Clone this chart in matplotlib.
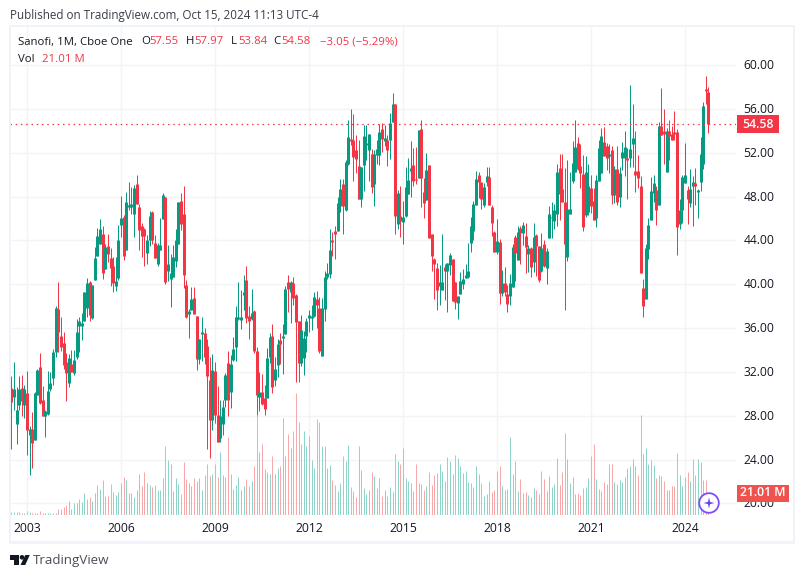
import matplotlib
matplotlib.use("Agg")
import matplotlib.pyplot as plt
from matplotlib.patches import Circle, Polygon, Rectangle
from matplotlib.transforms import ScaledTranslation
import numpy as np

plt.rcParams['font.family'] = ['Open Sans', 'DejaVu Sans']

opens = [30.54,29.7,27.26,29.0,30.5,29.0,30.1,26.2,26.8,25.8,
29.9,32.4,29.4,28.0,28.2,30.45,31.4,33.8,37.7,35.3,
34.6,32.9,31.0,32.7,31.9,33.4,36.2,36.2,36.6,37.8,
40.2,36.9,40.4,42.6,43.7,44.6,41.4,43.5,42.4,41.7,
39.8,40.6,45.4,46.1,43.1,47.0,47.0,46.4,49.1,47.0,
45.3,45.0,42.85,44.0,46.6,43.8,41.8,43.1,45.95,47.95,
41.2,40.5,40.7,42.1,43.7,47.6,46.4,39.9,37.3,37.65,
38.75,37.1,33.2,35.5,35.55,34.4,31.3,27.6,32.1,28.1,
26.0,27.26,29.45,32.8,30.2,33.1,34.3,36.8,36.75,39.0,
40.4,37.1,36.8,37.6,33.9,29.7,30.2,29.6,29.6,33.4,
35.3,31.25,32.65,34.9,35.1,35.5,40.2,39.3,40.1,39.0,
36.65,32.8,33.3,35.3,36.9,36.9,37.1,38.65,37.8,33.45,
37.75,40.7,40.9,44.0,44.85,44.85,47.1,49.15,46.8,51.0,
53.25,53.2,52.2,50.8,47.8,50.9,52.7,52.2,51.9,49.1,
51.8,51.8,54.2,53.1,53.2,53.2,54.8,56.45,45.5,46.2,
45.7,46.2,48.25,50.3,50.9,49.6,49.7,54.2,48.4,47.7,
50.9,44.6,42.3,41.5,39.85,39.5,41.6,41.2,41.75,42.3,
40.2,38.3,39.1,40.0,40.6,40.7,43.75,44.85,47.2,50.0,
49.3,47.25,49.3,49.8,47.0,44.75,42.95,43.85,39.2,40.1,
39.1,38.9,39.75,44.3,42.2,45.1,44.65,44.4,42.75,43.3,
42.0,44.5,43.5,41.2,43.65,41.5,44.2,46.1,45.75,46.4,
50.6,48.7,47.5,42.5,46.4,49.4,50.2,52.9,50.8,50.05,
46.3,46.6,48.8,47.6,46.0,49.4,50.15,53.0,52.6,51.7,
52.2,48.1,50.5,47.95,51.5,51.5,51.5,51.5,52.8,50.3,
50.3,49.0,39.65,38.65,43.2,45.85,48.3,48.6,47.2,54.4,
54.0,50.2,54.0,53.7,53.9,53.9,45.5,46.8,49.2,48.6,
47.4,49.0,49.2,48.4,49.3,51.0,57.8,57.55]

highs = [31.64,32.9,30.6,31.6,31.7,30.8,32.1,27.1,28.3,30.2,
32.3,33.7,30.7,28.5,32.1,32.0,34.1,38.0,40.2,37.0,
35.6,33.7,33.6,34.0,34.0,36.8,37.0,37.4,39.3,40.6,
40.3,39.9,43.4,45.1,45.95,45.3,43.7,44.6,43.3,42.5,
42.5,45.4,48.05,46.3,48.4,49.3,48.9,49.05,50.0,47.3,
45.6,45.1,44.5,46.7,46.7,44.5,43.8,46.0,48.3,47.95,
43.6,42.8,43.6,45.0,47.5,48.3,49.0,40.4,37.7,39.75,
39.75,37.1,35.0,37.0,36.0,35.0,33.4,33.6,32.9,30.7,
29.4,29.45,31.9,33.9,33.5,35.2,38.0,40.2,39.5,40.85,
41.66,38.0,39.6,37.65,34.3,32.0,31.8,30.8,34.2,35.55,
36.4,33.4,35.0,35.55,36.4,39.85,40.85,40.3,40.66,39.1,
36.65,37.2,35.7,36.9,37.65,38.1,39.3,39.4,38.8,38.7,
41.2,41.9,45.0,44.8,45.3,48.0,49.6,49.6,51.3,55.0,
56.0,55.5,53.6,53.2,50.7,54.5,54.5,53.7,52.3,52.2,
53.2,54.6,54.7,54.5,53.6,55.6,57.45,56.45,48.6,49.0,
47.6,50.7,51.5,53.07,52.4,52.5,54.1,55.0,49.7,52.0,
50.9,44.6,42.4,41.9,41.75,44.6,41.85,41.9,42.85,42.3,
40.2,38.9,41.1,41.4,41.85,43.8,46.1,47.6,50.3,50.25,
49.3,49.2,50.7,50.65,47.25,44.85,45.95,44.1,41.3,41.6,
39.9,40.9,43.7,44.5,45.3,45.3,45.65,45.6,43.6,43.4,
45.6,44.6,43.5,44.65,44.0,43.3,47.1,47.5,47.3,51.0,
51.9,51.9,50.6,51.3,50.2,53.06,55.0,53.4,52.8,51.8,
51.7,51.0,50.0,48.8,50.0,53.2,54.25,54.3,52.9,52.8,
52.6,50.8,52.6,50.7,53.0,54.0,52.4,58.17,56.44,54.0,
51.8,49.9,40.5,43.65,46.0,49.8,50.0,49.0,54.8,57.9,
56.0,54.25,55.0,54.4,55.8,54.15,47.8,50.0,52.9,49.0,
50.5,49.9,50.6,48.7,53.4,56.6,59.0,57.97]

lows = [24.98,28.5,25.4,28.5,28.0,27.8,24.4,22.6,23.2,25.8,
29.9,29.1,28.0,26.1,28.1,30.3,30.8,33.4,33.8,33.9,
32.3,29.3,30.6,32.0,31.7,33.2,33.8,34.9,36.6,37.0,
36.65,36.8,40.4,42.6,43.7,40.5,41.4,42.0,39.8,39.3,
39.4,40.4,44.3,42.2,43.1,46.8,46.4,44.3,47.3,43.1,
42.5,41.7,41.8,43.5,43.7,42.4,41.7,43.1,45.95,40.0,
40.3,37.9,40.7,41.6,43.7,44.95,39.66,36.9,35.1,37.65,
37.3,32.2,32.7,33.0,32.7,25.0,24.1,26.7,27.3,25.6,
25.6,26.25,28.8,28.0,28.7,33.0,33.0,36.7,35.9,37.65,
36.5,35.0,36.75,33.7,28.07,28.4,29.0,28.07,29.6,32.8,
30.1,30.7,31.5,32.7,31.8,35.5,37.5,36.5,38.1,31.1,
31.1,32.5,31.7,33.8,35.6,35.8,37.0,36.0,33.7,33.45,
36.6,40.5,40.6,42.6,42.3,44.85,46.6,44.6,46.7,50.9,
52.7,49.4,50.15,47.8,47.0,48.5,51.3,49.4,48.3,47.1,
51.0,50.9,52.1,52.6,50.8,51.4,54.8,44.6,45.0,44.3,
43.7,46.15,48.2,48.0,49.0,49.1,49.7,47.0,46.0,47.7,
44.2,41.2,38.65,37.65,38.1,39.5,38.6,37.5,40.85,38.5,
37.75,36.85,39.1,39.6,40.6,40.6,42.95,44.0,47.2,47.9,
46.85,47.0,49.0,47.25,44.4,42.9,42.75,38.2,38.9,38.9,
37.45,38.1,39.75,40.3,42.2,41.8,43.6,41.0,41.1,40.65,
41.1,40.75,40.2,41.15,41.6,40.0,44.2,44.2,45.0,45.3,
45.85,47.5,37.65,42.1,46.4,49.2,50.2,50.4,48.8,44.85,
46.1,46.3,46.5,45.85,45.25,49.4,50.15,51.7,50.4,50.15,
47.3,47.4,47.2,47.0,50.4,49.9,47.8,50.7,50.7,48.4,
48.8,41.0,37.0,38.65,42.3,45.85,47.5,45.4,47.2,53.6,
51.0,50.2,51.3,53.15,53.2,42.7,45.0,45.6,49.2,45.5,
47.0,45.3,47.2,46.0,48.5,50.5,56.4,53.84]

closes = [29.27,30.45,28.5,30.45,29.3,30.45,26.7,26.8,25.5,30.1,
32.2,29.2,28.0,28.4,30.3,31.0,33.8,37.8,35.6,34.3,
32.6,31.9,33.3,32.0,33.1,35.65,36.6,36.5,39.3,40.1,
37.2,39.9,42.4,44.4,45.04,41.0,43.4,42.8,41.5,40.1,
40.3,44.0,46.0,42.6,47.5,47.2,47.3,48.8,47.3,44.95,
44.4,44.4,44.05,46.2,44.0,42.4,43.6,43.6,48.1,40.2,
41.85,41.0,42.5,44.0,47.5,45.5,40.85,37.0,37.55,38.65,
37.3,33.2,35.0,35.6,33.4,31.6,27.6,32.2,28.1,25.6,
28.0,28.8,31.7,29.45,32.7,34.1,37.0,37.0,37.0,39.3,
36.9,36.6,37.4,33.9,29.9,30.2,29.1,28.6,33.3,35.2,
30.6,32.3,34.5,34.5,35.3,39.6,39.6,40.2,38.75,36.56,
32.8,35.8,35.1,36.65,37.2,37.1,38.85,38.1,33.9,37.8,
40.66,41.0,43.1,43.9,44.6,47.4,48.7,47.1,51.15,53.4,
53.07,51.6,51.4,47.8,50.7,53.5,52.9,53.7,48.9,51.9,
52.35,53.9,53.25,53.3,52.25,54.7,56.45,46.2,48.3,45.8,
46.15,48.9,49.5,50.6,49.4,49.5,54.05,49.7,47.4,50.4,
44.2,42.6,41.8,39.5,40.2,40.2,41.2,41.9,42.65,38.5,
38.4,38.9,40.3,40.5,40.85,41.2,45.3,47.3,49.6,49.3,
47.8,48.9,49.85,47.25,45.6,42.9,43.95,39.2,40.1,39.3,
38.2,40.1,43.4,42.85,44.75,44.65,45.4,43.4,43.3,41.55,
44.3,43.5,40.4,43.3,41.65,43.0,46.4,46.1,46.75,50.2,
48.2,47.5,43.65,46.85,46.85,51.05,52.5,50.5,50.15,45.2,
50.2,49.0,47.15,45.85,49.5,52.4,53.5,51.7,51.5,51.9,
48.1,50.5,47.5,50.15,52.05,52.5,51.3,52.3,53.3,50.0,
49.7,41.0,38.0,43.3,45.4,48.5,49.2,46.8,54.4,53.6,
53.7,54.0,53.5,53.15,53.7,45.25,46.75,49.8,50.0,47.8,
48.7,49.3,49.0,48.6,51.9,56.3,57.6,54.58]

volumes = [2.8,2.8,2.8,2.8,1.9,1.9,3.8,2.8,1.9,1.9,
1.9,3.8,1.9,1.9,1.9,1.9,1.9,1.9,5.7,5.7,
7.5,9.4,13.2,5.7,11.3,11.3,15.1,12.3,20.8,15.1,
17.0,13.2,20.8,28.3,24.5,33.0,17.9,17.9,29.2,21.7,
18.9,21.7,30.2,35.8,33.0,20.8,20.8,17.0,23.6,38.7,
27.4,40.6,30.2,28.3,26.4,28.3,23.6,23.6,34.9,65.0,
51.9,48.1,22.6,34.9,29.2,19.8,50.0,34.0,30.2,27.4,
34.9,32.0,34.9,23.6,37.7,48.1,36.8,38.7,48.1,35.8,
59.4,37.7,35.8,73.6,38.7,24.5,28.3,35.8,23.6,27.4,
34.0,27.4,32.0,46.2,94.3,59.4,67.0,43.4,40.6,38.7,
55.7,38.7,44.3,46.2,91.5,55.7,76.4,63.2,79.2,115.0,
87.7,67.0,79.2,65.0,74.5,51.9,44.3,90.6,87.7,65.0,
65.0,44.3,47.2,33.0,28.3,22.6,30.2,55.7,50.9,66.0,
26.4,22.6,17.0,65.0,42.5,25.5,19.8,23.6,40.6,36.8,
25.5,34.9,
17.9,23.6,17.9,26.4,21.7,57.5,50.9,48.1,63.2,34.9,
32.0,30.2,22.6,48.1,30.2,29.2,23.6,27.4,40.6,28.3,
37.7,39.6,48.1,41.5,32.0,54.7,50.9,38.7,56.6,53.8,
46.2,39.6,41.5,31.1,30.2,26.4,46.2,38.7,30.2,17.9,
19.8,32.0,21.7,23.6,41.5,46.2,27.4,23.6,24.5,73.6,
38.7,50.9,22.6,34.0,20.8,21.7,18.9,17.0,25.5,23.6,
19.8,41.5,34.0,22.6,36.8,26.4,29.2,53.8,28.3,40.6,
77.4,52.8,30.2,35.8,19.8,20.8,18.9,25.5,26.4,34.9,
55.7,67.0,34.0,24.5,22.6,31.1,29.2,48.1,48.1,31.1,
29.2,33.0,31.1,35.8,44.3,46.2,52.8,46.2,37.7,94.3,
57.5,63.2,48.1,51.9,47.2,34.9,37.7,36.8,32.0,23.6,
23.6,27.4,27.4,58.5,37.7,27.4,35.8,40.6,32.0,52.8,
37.7,52.8,50.0,33.0,33.0,21.01]

year_labels = ['2003', '2006', '2009', '2012', '2015', '2018', '2021', '2024']
year_bars = [6, 42, 78, 114, 150, 186, 222, 258]
price_ticks = [20, 24, 28, 32, 36, 40, 44, 48, 52, 56, 60]
last_price = 54.58

UP, DOWN = '#089981', '#f23645'
UP_V, DOWN_V = '#8fd4c9', '#f8a8a9'
GRID = '#f3f4f7'
FRAME = '#f0f3fa'
TEXT = '#131722'

W, H = 804, 578
fig = plt.figure(figsize=(W/100, H/100), dpi=100, facecolor='white')
L, R, T, B = 10, 736, 27, 515
rect = [L/W, 1-B/H, (R-L)/W, (B-T)/H]

x = np.arange(len(closes))
o, hi, lo, c = map(np.array, (opens, highs, lows, closes))
up = c >= o
cols = [UP if u else DOWN for u in up]

# volume pane (with the grid)
av = fig.add_axes(rect, zorder=1)
vb = av.vlines(x, 0, volumes, colors=[UP_V if u else DOWN_V for u in up], lw=0.72, zorder=2)
vb.set_snap(True)
av.set_ylim(0, (B-T)/1.06)
av.set_yticks([])
av.set_xticks([])
for s in av.spines.values():
    s.set_visible(False)

# price pane
ax = fig.add_axes(rect, zorder=2)
ax.patch.set_alpha(0)
ax.set_xlim(-0.5, (R-11.3)/2.611)
ax.set_ylim(60-(B-65)/10.96, 60+(65-T)/10.96)
av.set_xlim(ax.get_xlim())
wk = ax.vlines(x, lo, hi, colors=cols, lw=0.72, zorder=3)
wk.set_snap(True)
mid = (o+c)/2
half = np.maximum(np.abs(o-c)/2, 0.07)
bd = ax.vlines(x, mid-half, mid+half, colors=cols, lw=2.16, capstyle='butt', zorder=3)
bd.set_snap(True)
ax.axhline(last_price, color=DOWN, lw=0.9, linestyle=(0, (1.2, 3.0)), zorder=4)

ax.yaxis.tick_right()
ax.set_yticks(price_ticks, [f'{p:.2f}' for p in price_ticks])
ax.set_xticks(year_bars, year_labels)
ax.tick_params(axis='y', length=0, pad=5.5, labelsize=8.7, labelcolor=TEXT)
ax.tick_params(axis='x', length=0, pad=5, labelsize=8.7, labelcolor=TEXT)
shift = ScaledTranslation(0, 1/100, fig.dpi_scale_trans)
for lab in ax.get_yticklabels():
    lab.set_transform(lab.get_transform() + shift)
for s in ax.spines.values():
    s.set_visible(False)
for p in price_ticks:
    av.axhline((p-ax.get_ylim()[0])/(ax.get_ylim()[1]-ax.get_ylim()[0])*av.get_ylim()[1],
               color=GRID, lw=1.0, zorder=0)
for b in year_bars:
    av.axvline(b, color=GRID, lw=1.0, zorder=0)

# page furniture, in pixels
ov = fig.add_axes([0, 0, 1, 1], zorder=5)
ov.patch.set_alpha(0)
ov.set_xlim(0, W)
ov.set_ylim(H, 0)
ov.axis('off')

for r in [(9, 25, 786, 2.2), (9, 25, 2.2, 518), (9, 541, 786, 3), (793, 25, 2.4, 519)]:
    ov.add_patch(Rectangle((r[0], r[1]), r[2], r[3], color=FRAME, lw=0))

def t(px, py, s, color=TEXT, size=8.6, **kw):
    ov.text(px, py, s, color=color, fontsize=size, va='center', **kw)

t(10, 15, 'Published on TradingView.com, Oct 15, 2024 11:13 UTC-4', color='#3a3e4a', size=8.35)
t(18, 42, 'Sanofi, 1M, Cboe One', size=8.2)
for px, s, col in [(141, 'O', TEXT), (149, '57.55', DOWN), (186, 'H', TEXT), (194, '57.97', DOWN),
                   (231, 'L', TEXT), (238, '53.84', DOWN), (273, 'C', TEXT), (281, '54.58', DOWN),
                   (320, '\u22123.05 (\u22125.29%)', DOWN)]:
    t(px, 42, s, color=col, size=8.2)
t(18, 59, 'Vol', size=8.2)
t(42, 59, '21.01 M', color=DOWN, size=8.2)

ov.add_patch(Rectangle((737, 115), 42, 18, color=DOWN, lw=0))
t(758, 124, '54.58', color='white', size=8.8, ha='center', fontweight='semibold')
ov.add_patch(Rectangle((737, 485), 52, 17, color='#ef5350', lw=0))
t(763, 493, '21.01 M', color='white', size=8.8, ha='center', fontweight='semibold')

# purple badge
ov.add_patch(Circle((709, 503), 9.8, facecolor='white', edgecolor='#7a4dff', lw=1.3))
cx, cy = 709, 503
star = []
for k in range(8):
    a = k*np.pi/4
    rad = 5.6 if k % 2 == 0 else 1.5
    star.append((cx+rad*np.cos(a), cy+rad*np.sin(a)))
ov.add_patch(Polygon(star, color='#6a3df0', lw=0))

# TradingView logo
LOGO = '#131722'
ov.add_patch(Polygon([(10, 555), (19, 555), (19, 565), (14.5, 565), (14.5, 559.5), (10, 559.5)], color=LOGO, lw=0))
ov.add_patch(Circle((22, 557.3), 2.3, color=LOGO, lw=0))
ov.add_patch(Polygon([(25.3, 555), (29.8, 555), (25.2, 565), (20.5, 565)], color=LOGO, lw=0))
t(33, 560.5, 'TradingView', color='#4a4e59', size=9.6)

fig.savefig('out.png', dpi=100, facecolor='white')
